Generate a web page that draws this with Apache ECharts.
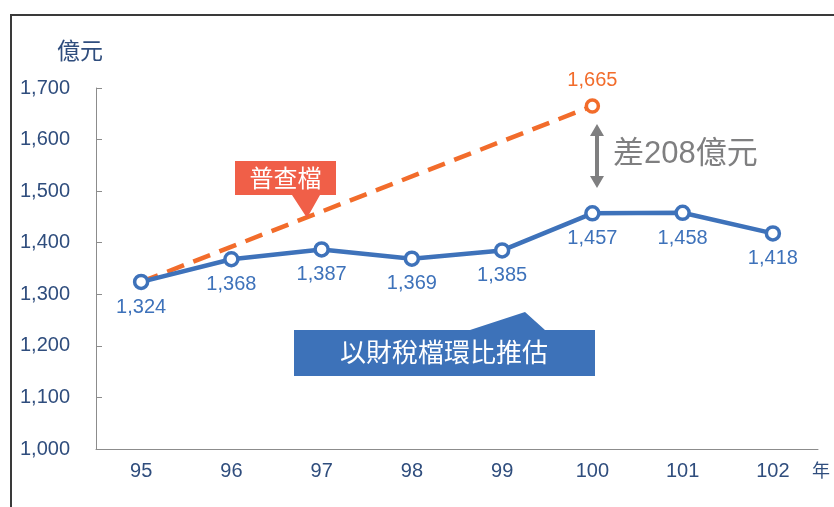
<!DOCTYPE html>
<html><head><meta charset="utf-8">
<script src="https://cdn.jsdelivr.net/npm/echarts@6/dist/echarts.min.js"></script>
<style>html,body{margin:0;padding:0;background:#fff}#c{width:834px;height:507px}</style>
</head><body><div id="c"></div>
<script>
const years = ['95','96','97','98','99','100','101','102'];
const taxEstimate = [1324, 1368, 1387, 1369, 1385, 1457, 1458, 1418];
const censusLine = [1324, null, null, null, null, 1665, null, null];
const yMin = 1000, yMax = 1700, yStep = 100;
const yUnit = '億元', xUnit = '年';
const censusName = '普查檔', taxName = '以財稅檔環比推估', gapText = '差208億元';

const FONT = "'Liberation Sans', Arial, 'Noto Sans CJK TC', sans-serif";
const fmt = v => Number(v).toLocaleString('en-US');
const chart = echarts.init(document.getElementById('c'));
chart.setOption({
  backgroundColor: '#fff',
  animation: false,
  textStyle: { fontFamily: FONT },
  grid: { left: 96, right: 16, top: 88, bottom: 58 },
  xAxis: {
    type: 'category', data: years, boundaryGap: true,
    axisLine: { lineStyle: { color: '#8c8c8c', width: 1 } },
    axisTick: { inside: true, length: 6, lineStyle: { color: '#8c8c8c' } },
    axisLabel: { color: '#2F4D7D', fontSize: 20, margin: 12, fontFamily: FONT }
  },
  yAxis: {
    type: 'value', min: yMin, max: yMax, interval: yStep,
    axisLine: { show: true, lineStyle: { color: '#8c8c8c', width: 1 } },
    axisTick: { show: true, inside: true, length: 6, lineStyle: { color: '#8c8c8c' } },
    splitLine: { show: false },
    axisLabel: { color: '#2F4D7D', fontSize: 20, margin: 26, formatter: fmt, fontFamily: FONT }
  },
  series: [
    {
      type: 'line', data: censusLine, connectNulls: true, z: 2,
      lineStyle: { color: '#F26C2B', width: 4.5, type: [18, 10] },
      itemStyle: { color: '#fff', borderColor: '#F26C2B', borderWidth: 3.5 },
      symbol: 'circle',
      symbolSize: (v, p) => p.dataIndex === 5 ? 12 : 0,
      label: {
        show: true, position: 'top', distance: 8, color: '#F26C2B', fontSize: 20, fontFamily: FONT,
        formatter: p => p.dataIndex === 5 ? fmt(p.value) : ''
      }
    },
    {
      type: 'line', data: taxEstimate, z: 3,
      lineStyle: { color: '#3E72BA', width: 4.5 },
      itemStyle: { color: '#fff', borderColor: '#3E72BA', borderWidth: 3.5 },
      symbol: 'circle', symbolSize: 13,
      label: { show: true, position: 'bottom', distance: 7, color: '#3E72BA', fontSize: 20, fontFamily: FONT, formatter: p => fmt(p.value) }
    }
  ],
  graphic: [
    { type: 'polyline', shape: { points: [[11, 507], [11, 15], [834, 15]] }, style: { stroke: '#3a3a3a', lineWidth: 2, fill: null } },
    { type: 'text', left: 57, top: 39, style: { text: yUnit, fill: '#2F4D7D', font: "23px 'Noto Sans CJK TC', sans-serif" } },
    { type: 'text', left: 812, top: 461, style: { text: xUnit, fill: '#2F4D7D', font: "18px 'Noto Sans CJK TC', sans-serif" } },
    { type: 'polygon', shape: { points: [[235,161],[336,161],[336,195],[320,195],[307,218],[292,195],[235,195]] }, style: { fill: '#F05F48' }, z: 10 },
    { type: 'text', x: 285.5, y: 178, style: { text: censusName, fill: '#fff', align: 'center', verticalAlign: 'middle', font: "24px 'Noto Sans CJK TC', sans-serif" }, z: 11 },
    { type: 'polygon', shape: { points: [[294,330],[470,330],[525,312],[545,330],[595,330],[595,376],[294,376]] }, style: { fill: '#3D72B9' }, z: 10 },
    { type: 'text', x: 444, y: 352, style: { text: taxName, fill: '#fff', align: 'center', verticalAlign: 'middle', font: "26px 'Noto Sans CJK TC', sans-serif" }, z: 11 },
    { type: 'polygon', shape: { points: [[597,124],[604,136],[599,136],[599,176],[604,176],[597,188],[590,176],[595,176],[595,136],[590,136]] }, style: { fill: '#7F7F80' }, z: 10 },
    { type: 'text', x: 613, y: 154, style: { text: gapText, fill: '#7F7F80', align: 'left', verticalAlign: 'middle', font: "31px 'Liberation Sans', 'Noto Sans CJK TC', sans-serif" }, z: 11 }
  ]
});
</script></body></html>
